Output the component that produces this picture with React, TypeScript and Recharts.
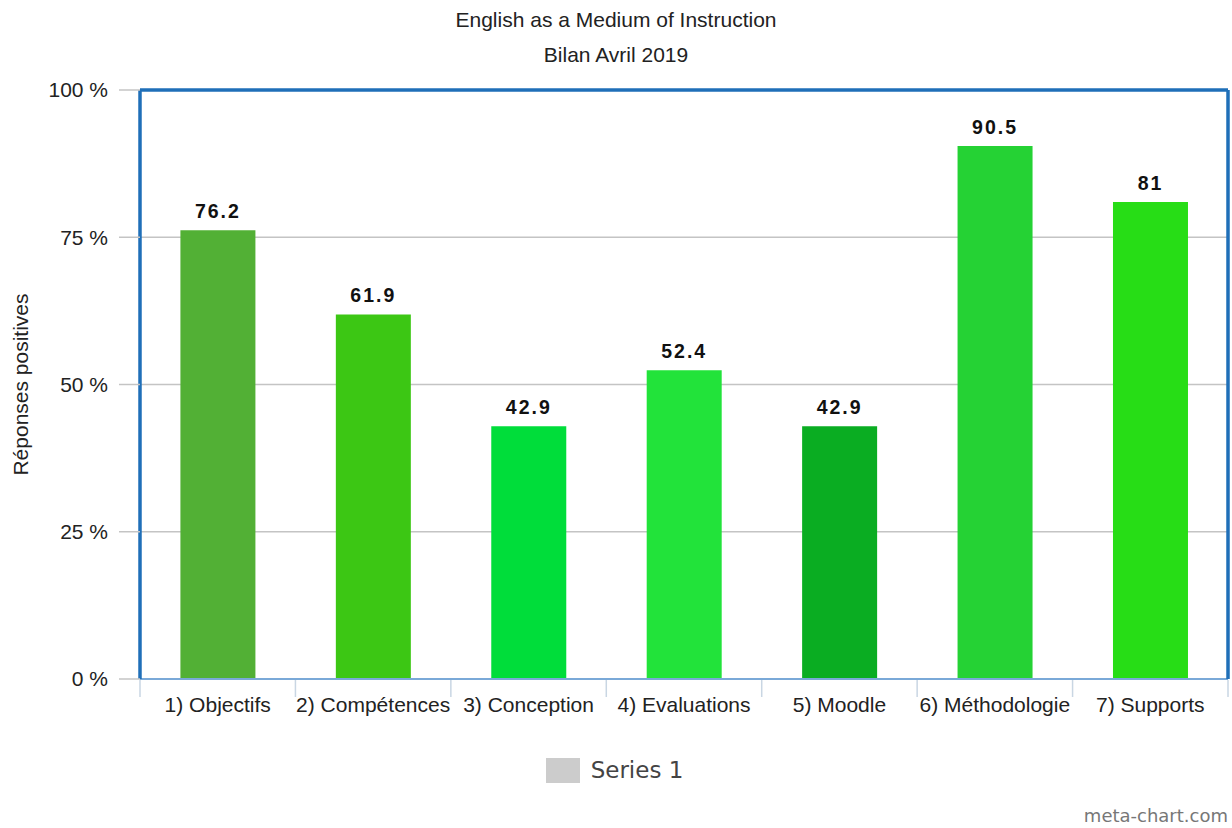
import { Bar, BarChart, CartesianGrid, Cell, LabelList, Legend, XAxis, YAxis } from "recharts"

const categories = [
  "1) Objectifs",
  "2) Compétences",
  "3) Conception",
  "4) Evaluations",
  "5) Moodle",
  "6) Méthodologie",
  "7) Supports",
]
const values = [76.2, 61.9, 42.9, 52.4, 42.9, 90.5, 81]
const barColors = ["#52b035", "#3cc714", "#00dd3a", "#22e33a", "#0aad22", "#25d234", "#27dd16"]
const yTicks = [0, 25, 50, 75, 100]

const BORDER = "#1f6fb8"
const FONT = "'Liberation Sans', Arial, sans-serif"

const dataset = categories.map((c, i) => ({ cat: c, val: values[i] }))

// category label + light tick at the band edges (meta-chart style)
function CatTick(props: any) {
  const { x, y, payload, visibleTicksCount } = props
  const half = payload?.offset ?? 0
  const last = payload?.index === visibleTicksCount - 1
  return (
    <g>
      <line x1={x - half} x2={x - half} y1={y + 1} y2={y + 18} stroke="#c9d6e3" strokeWidth={1.5} />
      {last && <line x1={x + half} x2={x + half} y1={y + 1} y2={y + 18} stroke="#c9d6e3" strokeWidth={1.5} />}
      <text x={x} y={y + 18} dy="0.71em" textAnchor="middle" fontSize={21} fill="#222" fontFamily={FONT}>
        {payload.value}
      </text>
    </g>
  )
}

function LegendBox() {
  return (
    <div style={{ height: 54, paddingTop: 18, boxSizing: "border-box", display: "flex", justifyContent: "center", alignItems: "flex-start", gap: 11 }}>
      <span style={{ width: 34, height: 25, background: "#cccccc", display: "inline-block" }} />
      <span style={{ fontFamily: "'DejaVu Sans', sans-serif", fontSize: 23, lineHeight: "25px", color: "#444" }}>Series 1</span>
    </div>
  )
}

export default function App() {
  return (
    <div style={{ position: "absolute", left: 0, top: 0, width: 1232, height: 828, background: "#fff" }}>
      <div style={{ position: "absolute", top: 2, width: 1232, textAlign: "center", fontFamily: FONT, fontSize: 21, color: "#222", lineHeight: "35px" }}>
        <div>English as a Medium of Instruction</div>
        <div>Bilan Avril 2019</div>
      </div>
      <BarChart
        width={1232}
        height={828}
        data={dataset}
        margin={{ top: 89, right: 3, bottom: 34, left: 0 }}
        barCategoryGap="26%"
      >
        <CartesianGrid vertical={false} stroke="#c4c4c4" strokeWidth={1.5} xAxisId="b" />
        <XAxis
          xAxisId="b"
          dataKey="cat"
          axisLine={{ stroke: "#7aa9d8", strokeWidth: 2 }}
          tickLine={false}
          tickSize={0}
          tickMargin={0}
          interval={0}
          height={61}
          tick={<CatTick />}
        />
        <XAxis xAxisId="top" orientation="top" dataKey="cat" tick={false} tickLine={false} height={1} axisLine={{ stroke: BORDER, strokeWidth: 3.5 }} />
        <YAxis
          domain={[0, 100]}
          ticks={yTicks}
          width={140}
          tickFormatter={(v) => `${v} %`}
          axisLine={{ stroke: BORDER, strokeWidth: 3.5 }}
          tickLine={{ stroke: "#c4c4c4", strokeWidth: 1.5 }}
          tickSize={21}
          tickMargin={11}
          tick={{ fontSize: 21, fill: "#222", fontFamily: FONT }}
          label={{
            value: "Réponses positives",
            angle: -90,
            position: "insideLeft",
            offset: 21,
            style: { textAnchor: "middle", fontSize: 21, fill: "#222", fontFamily: FONT },
          }}
        />
        <YAxis yAxisId="right" orientation="right" domain={[0, 100]} width={1} tick={false} tickLine={false} axisLine={{ stroke: BORDER, strokeWidth: 3.5 }} />
        <Legend verticalAlign="bottom" height={54} content={() => <LegendBox />} />
        <Bar dataKey="val" name="Series 1" xAxisId="b" fill="#cccccc" isAnimationActive={false}>
          {values.map((_, i) => (
            <Cell key={i} fill={barColors[i]} />
          ))}
          <LabelList
            dataKey="val"
            position="top"
            offset={12}
            style={{ fontSize: 19.5, fontWeight: "bold", fill: "#111", fontFamily: FONT, letterSpacing: 2 }}
          />
        </Bar>
      </BarChart>
      <div style={{ position: "absolute", right: 4, top: 806, fontFamily: "'DejaVu Sans', sans-serif", fontSize: 18, lineHeight: "20px", color: "#777" }}>
        meta-chart.com
      </div>
    </div>
  )
}
